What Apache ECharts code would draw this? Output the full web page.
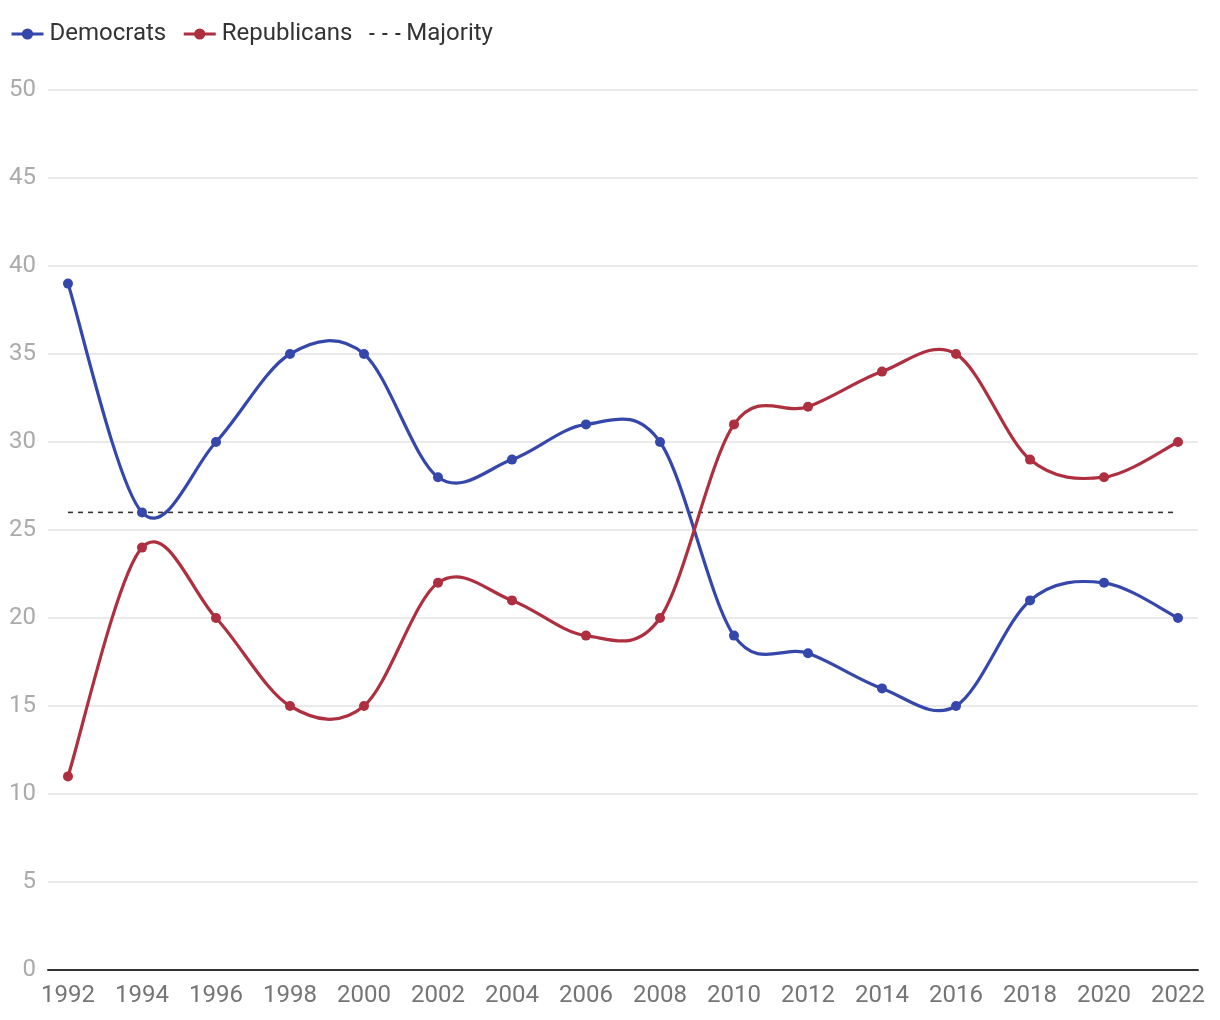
<!DOCTYPE html>
<html>
<head>
<meta charset="utf-8">
<style>html,body{margin:0;padding:0;background:#fff}#c{width:1220px;height:1020px}</style>
<script src="https://cdn.jsdelivr.net/npm/echarts@6/dist/echarts.min.js"></script>
</head>
<body>
<div id="c"></div>
<script>
var years = [1992,1994,1996,1998,2000,2002,2004,2006,2008,2010,2012,2014,2016,2018,2020,2022];
var democrats = [39,26,30,35,35,28,29,31,30,19,18,16,15,21,22,20];
var republicans = [11,24,20,15,15,22,21,19,20,31,32,34,35,29,28,30];
var majority = 26;

var BLUE = '#3547ab', RED = '#ae2f3f';
var chart = echarts.init(document.getElementById('c'));
function pairs(v){ return years.map(function(y,i){ return [y, v[i]]; }); }

// Catmull-Rom curve through the points, positioned by the chart's own scales
function curveItem(values, color){
  return function(params, api){
    if (params.dataIndex !== 0) return null;
    var p = values.map(function(v,i){ return api.coord([years[i], v]); });
    var n = p.length, d = 'M' + p[0][0] + ',' + p[0][1];
    for (var i = 0; i < n - 1; i++){
      var p0 = p[Math.max(i-1,0)], p1 = p[i], p2 = p[i+1], p3 = p[Math.min(i+2,n-1)];
      var c1x = p1[0] + (p2[0]-p0[0])/6, c1y = p1[1] + (p2[1]-p0[1])/6;
      var c2x = p2[0] - (p3[0]-p1[0])/6, c2y = p2[1] - (p3[1]-p1[1])/6;
      d += 'C' + c1x + ',' + c1y + ',' + c2x + ',' + c2y + ',' + p2[0] + ',' + p2[1];
    }
    return { type: 'path', shape: { pathData: d },
      style: { fill: 'none', stroke: color, lineWidth: 3.2, lineJoin: 'round', lineCap: 'round' } };
  };
}

chart.setOption({
  animation: false,
  textStyle: { fontFamily: 'Roboto' },
  legend: {
    left: 5, top: 17, itemWidth: 32, itemHeight: 14, itemGap: 16,
    textStyle: { fontSize: 24, color: '#333', fontFamily: 'Roboto', padding: [0, 0, 0, 1] },
    data: [
      { name: 'Democrats', lineStyle: { opacity: 1, width: 3, color: BLUE } },
      { name: 'Republicans', lineStyle: { opacity: 1, width: 3, color: RED } },
      { name: 'Majority', icon: 'path://M0,0M32,14M1,6h5v2h-5zM14,6h5v2h-5zM27,6h5v2h-5z',
        itemStyle: { color: '#333' } }
    ]
  },
  grid: { left: 48, right: 22, top: 90, bottom: 50 },
  xAxis: {
    type: 'value', min: 1991.46, max: 2022.54,
    axisLine: { show: true, onZero: false, lineStyle: { color: '#333', width: 2 } },
    axisTick: { show: false },
    splitLine: { show: false },
    axisLabel: { customValues: years, formatter: function(v){ return String(v); },
      color: '#757575', fontSize: 24, margin: 14, fontFamily: 'Roboto' }
  },
  yAxis: {
    type: 'value', min: 0, max: 50, interval: 5,
    axisLine: { show: false }, axisTick: { show: false },
    splitLine: { lineStyle: { color: '#e3e3e3', width: 1.5 } },
    axisLabel: { color: '#aaaaaa', fontSize: 24, margin: 12, fontFamily: 'Roboto' }
  },
  series: [
    { name: 'Democrats', type: 'line', data: pairs(democrats), z: 5,
      symbol: 'circle', symbolSize: 10, lineStyle: { opacity: 0 },
      itemStyle: { color: BLUE } },
    { name: 'Republicans', type: 'line', data: pairs(republicans), z: 6,
      symbol: 'circle', symbolSize: 10, lineStyle: { opacity: 0 },
      itemStyle: { color: RED } },
    { name: 'Majority', type: 'line', data: [[years[0], majority], [years[years.length-1], majority]],
      symbol: 'none', lineStyle: { width: 1.6, color: '#333', type: [5, 5] },
      itemStyle: { color: '#333' }, z: 1 },
    { name: 'Democrats', type: 'custom', coordinateSystem: 'cartesian2d', data: pairs(democrats),
      encode: { x: 0, y: 1 }, renderItem: curveItem(democrats, BLUE), z: 3, silent: true },
    { name: 'Republicans', type: 'custom', coordinateSystem: 'cartesian2d', data: pairs(republicans),
      encode: { x: 0, y: 1 }, renderItem: curveItem(republicans, RED), z: 4, silent: true }
  ]
});
</script>
</body>
</html>
